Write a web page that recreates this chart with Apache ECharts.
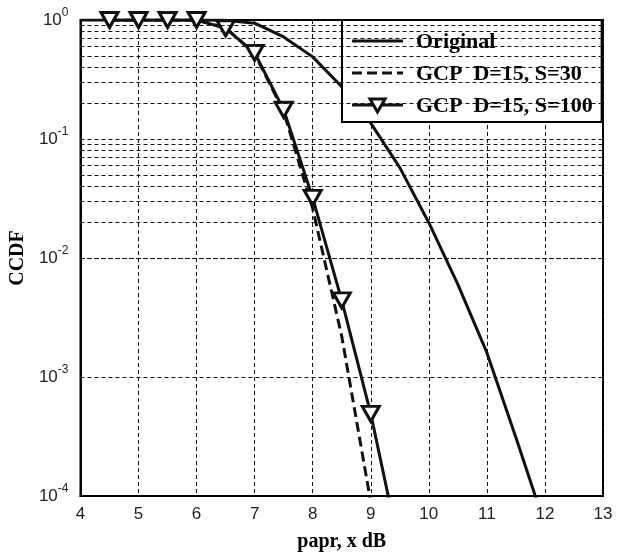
<!DOCTYPE html>
<html>
<head>
<meta charset="utf-8">
<script src="https://cdn.jsdelivr.net/npm/echarts@6/dist/echarts.min.js"></script>
<style>html,body{margin:0;padding:0;background:#fff;}#c{width:620px;height:557px;}</style>
</head>
<body>
<div id="c"></div>
<script>
// ---- data ----
const seriesNames = ['Original', 'GCP  D=15, S=30', 'GCP  D=15, S=100'];
const xOrig = [4, 4.5, 5, 5.5, 6, 6.5, 7, 7.5, 8, 8.5, 9, 9.5, 10, 10.5, 11, 11.5, 12];
const yOrig = [1, 1, 1, 1, 1, 0.995, 0.94, 0.72, 0.49, 0.275, 0.136, 0.0575, 0.0198, 0.006, 0.0016, 0.00031, 0.000057];
const x30 = [4.5, 5, 5.5, 6, 6.5, 7, 7.5, 8, 8.5, 9];
const y30 = [1, 1, 1, 1, 0.86, 0.52, 0.17, 0.026, 0.0022, 0.000089];
const x100 = [4.5, 5, 5.5, 6, 6.5, 7, 7.5, 8, 8.5, 9, 9.5];
const y100 = [1, 1, 1, 1, 0.85, 0.53, 0.176, 0.032, 0.0044, 0.00049, 0.000035];
const xTicks = [4, 5, 6, 7, 8, 9, 10, 11, 12, 13];
const yTickExps = [-4, -3, -2, -1, 0];
const minorMult = [2, 3, 4, 5, 6, 7, 8, 9];

const pair = (xs, ys) => xs.map((x, i) => [x, ys[i]]);
const minorVals = [];
yTickExps.slice(0, -1).forEach(e => minorMult.forEach(m => minorVals.push(m * Math.pow(10, e))));

const gridStyle = { type: [4, 3], color: '#111', width: 1 };
const lg = { x0: 352, x1: 403, rows: [41, 73, 105] };
const chart = echarts.init(document.getElementById('c'), null, { renderer: 'canvas' });
chart.setOption({
  animation: false,
  backgroundColor: '#fff',
  grid: { left: 80, top: 20, right: 17, bottom: 60, show: true, borderColor: '#000', borderWidth: 2, backgroundColor: 'transparent' },
  legend: {
    orient: 'vertical', left: 342, top: 20,
    itemWidth: 52, itemHeight: 16, itemGap: 10,
    padding: [11, 9, 5, 17],
    backgroundColor: '#fff', borderColor: '#000', borderWidth: 2,
    textStyle: { fontFamily: 'Liberation Serif', fontWeight: 'bold', fontSize: 22, color: '#000' },
    data: seriesNames.map(n => ({ name: n, icon: 'none' }))
  },
  graphic: [
    { type: 'line', z: 100, shape: { x1: lg.x0, y1: lg.rows[0], x2: lg.x1, y2: lg.rows[0] }, style: { stroke: '#111', lineWidth: 3 } },
    { type: 'line', z: 100, shape: { x1: lg.x0, y1: lg.rows[1], x2: lg.x1, y2: lg.rows[1] }, style: { stroke: '#111', lineWidth: 3, lineDash: [10, 5] } },
    { type: 'line', z: 100, shape: { x1: lg.x0, y1: lg.rows[2], x2: lg.x1, y2: lg.rows[2] }, style: { stroke: '#111', lineWidth: 3 } },
    { type: 'polygon', z: 101, shape: { points: [[(lg.x0 + lg.x1) / 2 - 7.5, lg.rows[2] - 6], [(lg.x0 + lg.x1) / 2 + 7.5, lg.rows[2] - 6], [(lg.x0 + lg.x1) / 2, lg.rows[2] + 7]] }, style: { fill: '#fff', stroke: '#111', lineWidth: 3 } }
  ],
  xAxis: {
    type: 'value', min: xTicks[0], max: xTicks[xTicks.length - 1], interval: 1,
    name: 'papr, x dB', nameLocation: 'middle', nameGap: 36,
    nameTextStyle: { fontFamily: 'Liberation Serif', fontWeight: 'bold', fontSize: 20, color: '#000' },
    axisLine: { show: true, lineStyle: { color: '#000', width: 2 } },
    axisTick: { show: false },
    axisLabel: { margin: 10, fontFamily: 'Liberation Sans', fontSize: 17, color: '#222' },
    splitLine: { show: true, lineStyle: gridStyle }
  },
  yAxis: {
    type: 'log', logBase: 10, min: Math.pow(10, yTickExps[0]), max: Math.pow(10, yTickExps[yTickExps.length - 1]),
    name: 'CCDF', nameLocation: 'middle', nameGap: 52,
    nameTextStyle: { fontFamily: 'Liberation Serif', fontWeight: 'bold', fontSize: 20, color: '#000' },
    axisLine: { show: true, lineStyle: { color: '#000', width: 2 } },
    axisTick: { show: false },
    axisLabel: {
      margin: 12,
      formatter: v => '{b|10}{s|' + Math.round(Math.log10(v)) + '}',
      rich: {
        b: { fontFamily: 'Liberation Sans', fontSize: 17, color: '#222' },
        s: { fontFamily: 'Liberation Sans', fontSize: 12, color: '#222', padding: [0, 0, 14, 0] }
      }
    },
    splitLine: { show: true, lineStyle: gridStyle },
    minorSplitLine: { show: false }
  },
  series: [
    {
      type: 'line', name: 'minor', data: [], z: 1, silent: true,
      markLine: {
        silent: true, symbol: ['none', 'none'], label: { show: false }, animation: false,
        lineStyle: gridStyle,
        data: minorVals.map(v => ({ yAxis: v }))
      }
    },
    {
      type: 'line', name: seriesNames[0], data: pair(xOrig, yOrig), symbol: 'none', z: 3,
      lineStyle: { color: '#111', width: 3, type: 'solid' }, itemStyle: { color: '#111' }
    },
    {
      type: 'line', name: seriesNames[1], data: pair(x30, y30), symbol: 'none', z: 3,
      lineStyle: { color: '#111', width: 3, type: [10, 5] }, itemStyle: { color: '#111' }
    },
    {
      type: 'line', name: seriesNames[2], data: pair(x100, y100), z: 4,
      symbol: 'triangle', symbolRotate: 180, symbolSize: [17, 15],
      lineStyle: { color: '#111', width: 3 },
      itemStyle: { color: '#fff', borderColor: '#111', borderWidth: 3 }
    }
  ]
});
</script>
</body>
</html>
